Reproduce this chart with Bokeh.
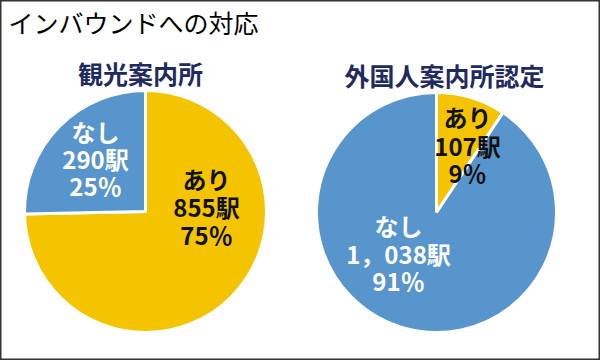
import math
from bokeh.plotting import figure
from bokeh.models import ColumnDataSource, Range1d
from bokeh.core.properties import value
from bokeh.embed import file_html
from bokeh.resources import INLINE

# ---- data ----
chart_title = "インバウンドへの対応"
categories = ["あり", "なし"]
pie_titles = ["観光案内所", "外国人案内所認定"]
tourist_info_counts = [855, 290]
tourist_info_pcts = [75, 25]
foreign_info_counts = [107, 1038]
foreign_info_pcts = [9, 91]

# ---- style / layout ----
W, H = 600, 360
YELLOW = "#F5C400"
BLUE = "#5895CC"
NAVY = "#1F2B5E"
FONT = value("Noto Sans CJK JP")
slice_colors = [YELLOW, BLUE]
label_colors = ["#111111", "#FFFFFF"]


def Y(y):  # pixel row from top -> data y
    return H - y


pies = [
    dict(counts=tourist_info_counts, pcts=tourist_info_pcts, cx=145, cy=211, r=121,
         title_pos=(140, 72),
         label_pos=[(206, [178, 206, 234]), (95, [131, 158, 185])]),
    dict(counts=foreign_info_counts, pcts=foreign_info_pcts, cx=436, cy=212, r=120,
         title_pos=(444, 74),
         label_pos=[(467, [116, 145, 172]), (398, [225, 253, 280])]),
]

p = figure(width=W, height=H, output_backend="svg", toolbar_location=None,
           x_range=Range1d(0, W), y_range=Range1d(0, H),
           min_border=0, min_border_left=0, min_border_right=0,
           min_border_top=0, min_border_bottom=0)
p.axis.visible = False
p.grid.visible = False
p.background_fill_color = "white"
p.border_fill_color = "white"
p.outline_line_color = "#333333"
p.outline_line_width = 2

# main title
p.text(x=[8], y=[Y(21)], text=[chart_title], text_font=FONT, text_font_size="25px",
       text_color="#000000", text_baseline="middle", text_align="left")

for pie, ptitle in zip(pies, pie_titles):
    counts = pie["counts"]
    total = sum(counts)
    starts, ends = [], []
    cum = 0
    for c in counts:
        starts.append(math.pi / 2 - 2 * math.pi * cum / total)
        cum += c
        ends.append(math.pi / 2 - 2 * math.pi * cum / total)
    src = ColumnDataSource(dict(x=[pie["cx"]] * len(counts), y=[Y(pie["cy"])] * len(counts),
                                start=starts, end=ends, color=slice_colors))
    p.wedge(x="x", y="y", radius=pie["r"], start_angle="start", end_angle="end",
            direction="clock", fill_color="color", line_color="white", line_width=3,
            source=src)

    tx, ty = pie["title_pos"]
    p.text(x=[tx], y=[Y(ty)], text=[ptitle], text_font=FONT, text_font_style="bold",
           text_font_size="25px", text_color=NAVY, text_align="center",
           text_baseline="middle")

    for i, cat in enumerate(categories):
        lx, lys = pie["label_pos"][i]
        count_txt = f"{counts[i]:,}".replace(",", "，") + "駅"
        lines = [cat, count_txt, f"{pie['pcts'][i]}％"]
        lsrc = ColumnDataSource(dict(x=[lx] * 3, y=[Y(v) for v in lys], t=lines))
        p.text(x="x", y="y", text="t", source=lsrc, text_font=FONT,
               text_font_style="bold", text_font_size="24px",
               text_color=label_colors[i], text_align="center", text_baseline="middle")

open("out.html", "w").write(file_html(p, INLINE))
